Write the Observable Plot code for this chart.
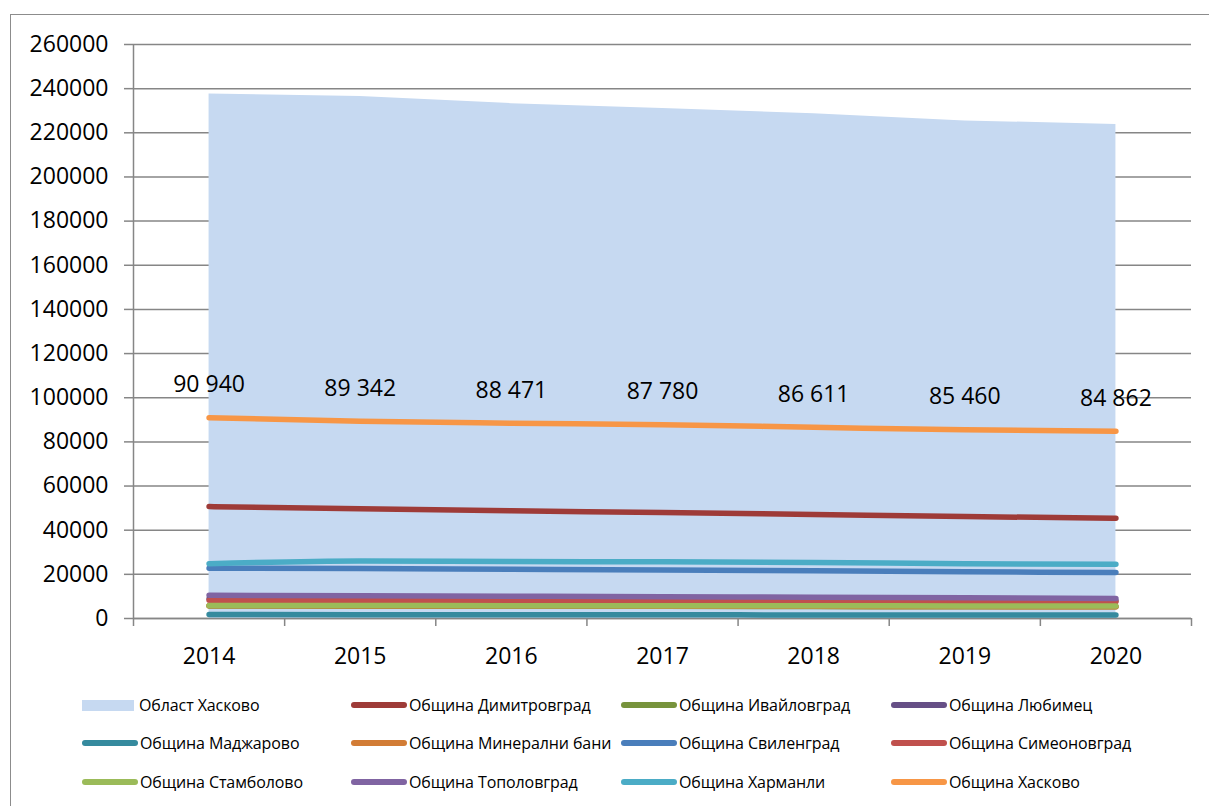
<!DOCTYPE html>
<html>
<head>
<meta charset="utf-8">
<script src="https://cdn.jsdelivr.net/npm/d3@7"></script>
<script src="https://cdn.jsdelivr.net/npm/@observablehq/plot@0.6"></script>
<style>
  html, body { margin: 0; padding: 0; background: #fff; }
  body { width: 1209px; height: 806px; overflow: hidden; position: relative; font-family: "Open Sans", sans-serif; }
  #frame { position: absolute; left: 10px; top: 14px; width: 1300px; height: 900px; border: 1.5px solid #8c8c8c; box-sizing: border-box; }
  #chart { position: absolute; left: 0; top: 0; }
  .leg { position: absolute; display: flex; align-items: center; font-size: 16px; letter-spacing: -0.1px; color: #000; white-space: nowrap; transform: translateY(-50%); }
  .sw { display: inline-block; margin-right: 2px; }
</style>
</head>
<body>
<div id="frame"></div>
<div id="chart"></div>
<div id="legend"></div>
<script>
const years = [2014, 2015, 2016, 2017, 2018, 2019, 2020];
const areaName = "Област Хасково";
const oblast = [237600, 236500, 233200, 231000, 228600, 225400, 223800];

const seriesNames = [
  "Община Димитровград", "Община Ивайловград", "Община Любимец",
  "Община Маджарово", "Община Минерални бани", "Община Свиленград",
  "Община Симеоновград", "Община Стамболово", "Община Тополовград",
  "Община Харманли", "Община Хасково"
];
const seriesColors = [
  "#9e3b38", "#77933c", "#664f86",
  "#358a9e", "#d27c35", "#4a7ebb",
  "#c0504d", "#9bbb59", "#8064a2",
  "#4bacc6", "#f79646"
];
const dimitrovgrad = [50700, 49700, 48800, 48000, 47100, 46200, 45400];
const ivaylovgrad  = [5700, 5600, 5500, 5500, 5400, 5300, 5300];
const lyubimets    = [8900, 8800, 8600, 8500, 8300, 8200, 8000];
const madzharovo   = [1800, 1700, 1700, 1700, 1600, 1600, 1600];
const mineralni    = [5800, 5700, 5700, 5600, 5500, 5400, 5300];
const svilengrad   = [22800, 22600, 22300, 22000, 21600, 21200, 20800];
const simeonovgrad = [8300, 8200, 8100, 8000, 7800, 7700, 7600];
const stambolovo   = [5900, 5900, 5800, 5800, 5800, 5700, 5700];
const topolovgrad  = [10500, 10300, 10100, 9900, 9600, 9400, 9100];
const harmanli     = [24800, 26100, 25800, 25700, 25400, 24800, 24600];
const haskovo      = [90940, 89342, 88471, 87780, 86611, 85460, 84862];

const yTicks = [0, 20000, 40000, 60000, 80000, 100000, 120000, 140000, 160000, 180000, 200000, 220000, 240000, 260000];

const seriesValues = [dimitrovgrad, ivaylovgrad, lyubimets, madzharovo, mineralni, svilengrad,
  simeonovgrad, stambolovo, topolovgrad, harmanli, haskovo];

const areaData = years.map((y, i) => ({year: y, value: oblast[i]}));
const lineData = [];
seriesNames.forEach((n, s) => years.forEach((y, i) => lineData.push({name: n, year: y, value: seriesValues[s][i]})));
const labelData = years.map((y, i) => ({year: y, value: haskovo[i], text: d3.format(",")(haskovo[i]).replace(/,/g, " ")}));
const boundaries = [years[0] - 0.5, ...years.map(y => y + 0.5)];

const grey = "#868686";
const chart = Plot.plot({
  width: 1209,
  height: 680,
  marginLeft: 133,
  marginRight: 18,
  marginTop: 44,
  marginBottom: 62,
  style: {fontFamily: "'Open Sans', sans-serif", color: "#000", background: "transparent", overflow: "visible"},
  x: {type: "linear", domain: [years[0] - 0.5, years[years.length - 1] + 0.5]},
  y: {domain: [0, 260000]},
  color: {domain: seriesNames, range: seriesColors},
  marks: [
    Plot.gridY(yTicks, {stroke: grey, strokeOpacity: 1, strokeWidth: 1.5}),
    Plot.areaY(areaData, {x: "year", y: "value", fill: "#c6d9f1"}),
    Plot.ruleX([boundaries[0]], {stroke: grey, strokeWidth: 1.5}),
    Plot.ruleY([0], {stroke: grey, strokeWidth: 1.5}),
    Plot.line(lineData, {x: "year", y: "value", z: "name", stroke: "name", strokeWidth: 5.5, strokeLinecap: "round", strokeLinejoin: "round", curve: "monotone-x"}),
    Plot.text(labelData, {x: "year", y: "value", text: "text", dy: -33, fontSize: 23, fill: "#000"}),
    Plot.axisY(yTicks, {tickSize: 9, tickPadding: 16, fontSize: 23, stroke: grey, strokeWidth: 1.5, tickFormat: d => String(d), label: null}),
    Plot.axisX(boundaries, {tickSize: 8, stroke: grey, strokeWidth: 1.5, tickFormat: () => "", label: null}),
    Plot.axisX(years, {tickSize: 0, tickPadding: 29, fontSize: 23, tickFormat: d => String(d), label: null})
  ]
});
document.getElementById("chart").appendChild(chart);

// Legend
const legend = document.getElementById("legend");
const colX = [82, 351, 621, 891];
const rowY = [705, 743, 782];
const items = [{name: areaName, color: "#c6d9f1", area: true},
  ...seriesNames.map((n, i) => ({name: n, color: seriesColors[i]}))];
items.forEach((it, i) => {
  const r = Math.floor(i / 4), c = i % 4;
  const d = document.createElement("div");
  d.className = "leg";
  d.style.left = colX[c] + "px";
  d.style.top = rowY[r] + "px";
  const sw = document.createElement("span");
  sw.className = "sw";
  if (it.area) {
    sw.style.width = "52px"; sw.style.height = "11px"; sw.style.background = it.color;
    sw.style.marginRight = "5px";
  } else {
    sw.style.width = "56px"; sw.style.height = "6px"; sw.style.background = it.color; sw.style.borderRadius = "3px";
  }
  d.appendChild(sw);
  const t = document.createElement("span");
  t.textContent = it.name;
  d.appendChild(t);
  legend.appendChild(d);
});
</script>
</body>
</html>
